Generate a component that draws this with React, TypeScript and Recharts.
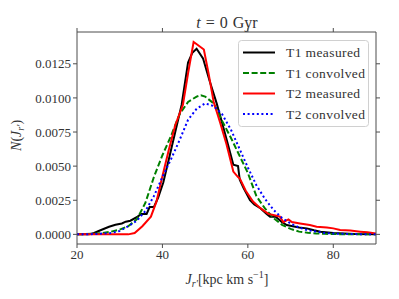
import React from 'react';
import { LineChart, Line, XAxis, YAxis, Legend } from 'recharts';

// T1 measured (black)
const t1MeasX = [20, 22.8, 24, 25.5, 27.5, 29, 30.5, 31.4, 32.5, 34.2, 35, 36.3, 37, 38, 39, 40.2, 41.5, 43, 44.5, 46, 47, 48, 49.5, 51, 52.7, 54.2, 55.5, 56.6, 57.7, 58.1, 59, 60.5, 61.5, 63, 64.4, 65.2, 66.5, 68, 69.1, 70.5, 72, 73.8, 75.5, 77, 80, 85, 90];
const t1MeasY = [0, 0, 0.0001, 0.0003, 0.00056, 0.0007, 0.0008, 0.00093, 0.001, 0.0013, 0.0015, 0.0015, 0.002, 0.002, 0.0027, 0.0038, 0.0055, 0.0075, 0.0095, 0.0126, 0.0133, 0.0136, 0.0129, 0.0113, 0.0096, 0.0079, 0.0064, 0.0051, 0.005, 0.004, 0.0034, 0.0025, 0.0022, 0.0019, 0.0015, 0.0013, 0.0013, 0.0009, 0.00068, 0.0006, 0.0005, 0.00044, 0.0003, 0.0002, 0.0001, 0.00003, 0];

// T1 convolved (green dashed)
const t1ConvX = [20, 22, 24, 26, 28, 30, 32, 34, 36, 38, 40, 42, 44, 46, 48, 49, 50, 52, 54, 56, 58, 60, 62, 64, 66, 68, 70, 72, 74, 76, 78, 80, 84, 90];
const t1ConvY = [0, 0.00002, 0.00005, 0.0001, 0.0002, 0.00035, 0.0006, 0.0011, 0.0023, 0.0042, 0.0058, 0.0072, 0.0088, 0.0097, 0.0101, 0.0102, 0.0101, 0.0096, 0.0083, 0.0071, 0.0058, 0.0045, 0.0028, 0.0019, 0.0012, 0.0007, 0.0004, 0.0002, 0.00012, 0.00007, 0.00004, 0.00002, 0.00001, 0];

// T2 measured (red)
const t2MeasX = [20, 32, 33.5, 35.3, 37.3, 38.6, 39.8, 41.5, 43, 44.8, 46, 47.3, 48.2, 49.7, 50.8, 52, 53.5, 55, 56.6, 57.7, 58.1, 59.5, 61.2, 63, 64.8, 66.2, 67.5, 68.3, 69.5, 70.3, 72.2, 74.5, 76.1, 78.5, 80, 81.6, 84, 86.3, 88, 90];
const t2MeasY = [0, 0, 0.0001, 0.0006, 0.0013, 0.0024, 0.004, 0.0062, 0.008, 0.0095, 0.0118, 0.0141, 0.0139, 0.01355, 0.0118, 0.0097, 0.0082, 0.0066, 0.0046, 0.0042, 0.0041, 0.0032, 0.0024, 0.0019, 0.0015, 0.0014, 0.0013, 0.0009, 0.0011, 0.0009, 0.0008, 0.00068, 0.00056, 0.0005, 0.00044, 0.00032, 0.00028, 0.0002, 0.00015, 0.00007];

// T2 convolved (blue dotted)
const t2ConvX = [20, 24, 28, 30, 32, 34, 36, 38, 40, 42, 44, 46, 48, 50, 52, 54, 56, 58, 60, 62, 64, 66, 68, 70, 72, 74, 76, 78, 80, 85, 90];
const t2ConvY = [0, 0.00002, 0.0001, 0.00025, 0.0006, 0.001, 0.0017, 0.0028, 0.0042, 0.0055, 0.0069, 0.0084, 0.0092, 0.0096, 0.0094, 0.0088, 0.0077, 0.0063, 0.0049, 0.0036, 0.0026, 0.0018, 0.0012, 0.0008, 0.0005, 0.0003, 0.0002, 0.0001, 0.00006, 0.00002, 0];

const xTicks = [20, 40, 60, 80];
const yTicks = [0, 0.0025, 0.005, 0.0075, 0.01, 0.0125];

const toPoints = (xs: number[], ys: number[]) => xs.map((x, i) => ({ x, y: ys[i] }));

const series = [
    { name: 'T1 measured', data: toPoints(t1MeasX, t1MeasY), color: '#000000', dash: undefined as string | undefined },
    { name: 'T1 convolved', data: toPoints(t1ConvX, t1ConvY), color: '#008000', dash: '6 2.6' },
    { name: 'T2 measured', data: toPoints(t2MeasX, t2MeasY), color: '#ff0000', dash: undefined as string | undefined },
    { name: 'T2 convolved', data: toPoints(t2ConvX, t2ConvY), color: '#0000ff', dash: '2 2.6' },
];

const FONT = "'Liberation Serif', 'Times New Roman', serif";
const AXIS = '#4d4d4d';
const TEXT = '#333';
const xDomain: [number, number] = [20, 90];
const yDomain: [number, number] = [-0.000706, 0.01483];

const LegendBox = () => (
    <svg width={131} height={87} style={{ display: 'block' }}>
        <rect x={0.5} y={0.5} width={130} height={86} rx={3} fill="rgba(255,255,255,0.8)" stroke="#d0d0d0" />
        {series.map((s, i) => {
            const cy = 12.5 + i * 20.5;
            return (
                <g key={s.name}>
                    <line x1={5} x2={37} y1={cy} y2={cy} stroke={s.color} strokeWidth={2} strokeDasharray={s.dash} />
                    <text x={48} y={cy + 4.5} style={{ fontFamily: FONT, fontSize: 13.5, letterSpacing: 0.4 }} fill={TEXT}>{s.name}</text>
                </g>
            );
        })}
    </svg>
);

const tickStyle = { fill: TEXT, fontSize: 13, style: { fontFamily: FONT } };

const App: React.FC = () => {
    return (
        <div style={{ position: 'absolute', left: 0, top: 0, width: 399, height: 299, background: '#fff', fontFamily: FONT }}>
            <LineChart width={399} height={299} margin={{ top: 31, right: 22, bottom: 20, left: 0 }} style={{ fontFamily: FONT }}>
                <XAxis
                    dataKey="x"
                    type="number"
                    domain={xDomain}
                    ticks={xTicks}
                    allowDataOverflow
                    height={35}
                    stroke={AXIS}
                    tickSize={4}
                    tickMargin={2}
                    tick={tickStyle}
                />
                {/* top frame edge */}
                <XAxis
                    xAxisId="top"
                    orientation="top"
                    dataKey="x"
                    type="number"
                    domain={xDomain}
                    ticks={xTicks}
                    allowDataOverflow
                    height={1}
                    stroke={AXIS}
                    tickSize={4}
                    tickFormatter={() => ''}
                />
                <YAxis
                    type="number"
                    domain={yDomain}
                    ticks={yTicks}
                    allowDataOverflow
                    width={77}
                    stroke={AXIS}
                    tickSize={4}
                    tickMargin={2}
                    tick={tickStyle}
                    tickFormatter={(v: number) => v.toFixed(4)}
                />
                {/* right frame edge */}
                <YAxis
                    yAxisId="right"
                    orientation="right"
                    type="number"
                    domain={yDomain}
                    ticks={yTicks}
                    allowDataOverflow
                    width={1}
                    stroke={AXIS}
                    tickSize={4}
                    tickFormatter={() => ''}
                />
                <Line
                    xAxisId="top"
                    yAxisId="right"
                    data={series[0].data}
                    dataKey="y"
                    stroke="none"
                    dot={false}
                    activeDot={false}
                    legendType="none"
                    isAnimationActive={false}
                />
                {series.map((s) => (
                    <Line
                        key={s.name}
                        data={s.data}
                        dataKey="y"
                        name={s.name}
                        type="linear"
                        stroke={s.color}
                        strokeWidth={2}
                        strokeDasharray={s.dash}
                        dot={false}
                        activeDot={false}
                        isAnimationActive={false}
                    />
                ))}
                <Legend
                    layout="horizontal"
                    verticalAlign="middle"
                    align="center"
                    wrapperStyle={{ left: 238, top: 40, width: 131, height: 87 }}
                    content={() => <LegendBox />}
                />
            </LineChart>

            <div style={{ position: 'absolute', left: 127, width: 200, top: 13, textAlign: 'center', fontSize: 16, color: TEXT, lineHeight: '20px', wordSpacing: 1 }}>
                <i>t</i> = 0 Gyr
            </div>
            <div style={{ position: 'absolute', left: 127, width: 200, top: 266, textAlign: 'center', fontSize: 14, color: TEXT, lineHeight: '18px' }}>
                <i>J</i><sub style={{ fontSize: 10 }}><i>r′</i></sub>[kpc km s<sup style={{ fontSize: 10 }}>−1</sup>]
            </div>
            <div style={{ position: 'absolute', left: 19, top: 133, width: 0, height: 0 }}>
                <div style={{ position: 'absolute', left: -50, top: -10, width: 100, textAlign: 'center', fontSize: 14, color: TEXT, lineHeight: '20px', transform: 'rotate(-90deg)', whiteSpace: 'nowrap' }}>
                    <i>N</i>(<i>J</i><sub style={{ fontSize: 10 }}><i>r′</i></sub>)
                </div>
            </div>
        </div>
    );
};

export default App;
